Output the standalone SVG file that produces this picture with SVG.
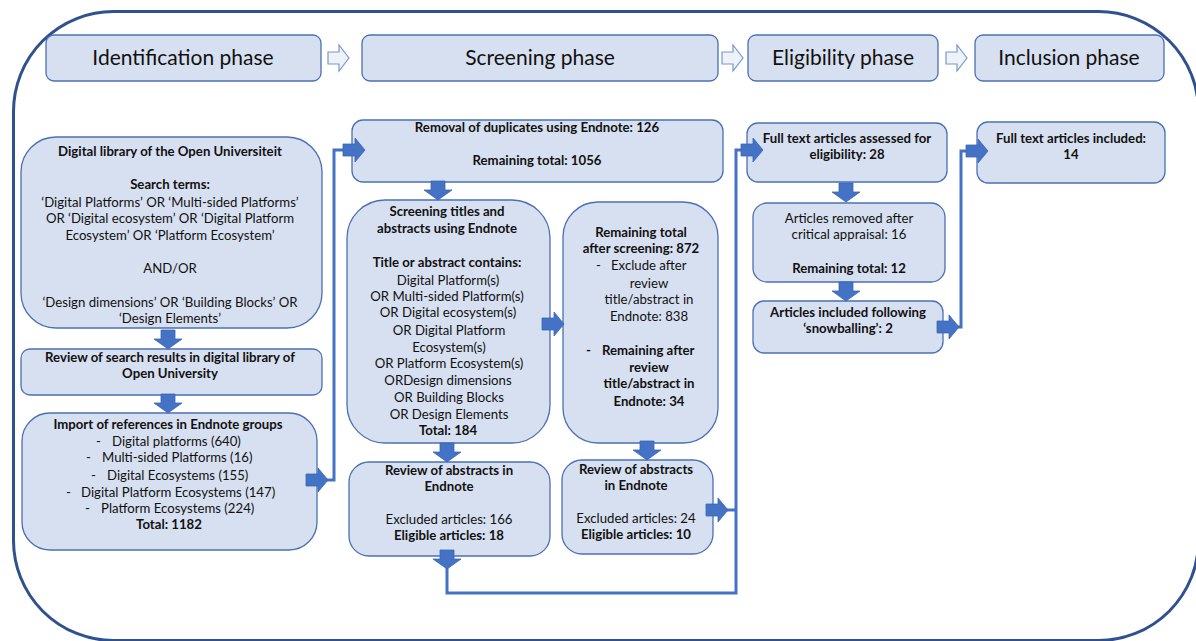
<svg xmlns="http://www.w3.org/2000/svg" xmlns:xlink="http://www.w3.org/1999/xlink" width="1196" height="641" viewBox="0 0 1196 641">
<style>
.box{fill:#D7E0F0;stroke:#4B70B3;stroke-width:1.3}
.t{font-family:Lato,"Open Sans",sans-serif;font-size:13.2px;fill:#111;text-anchor:middle}
.b{font-weight:bold}
.s{text-anchor:start}
.ph{font-family:Lato,"Open Sans",sans-serif;font-size:21px;fill:#111;text-anchor:middle}
.conn{fill:none;stroke:#4472C4;stroke-width:3}
.ba{fill:#4472C4;stroke:#3C66B5;stroke-width:0.8}
.ha{fill:#EEF2F9;stroke:#7A98CC;stroke-width:1.2}
</style>
<defs>
<path id="ar" d="M0,-6 H12 V-12 L22,0 L12,12 V6 H0 Z"/>
<path id="ad" d="M-7,0 V9 H-14 L0,19 L14,9 H7 V0 Z"/>
<path id="ah" d="M0,-6 H11 V-13 L21,0 L11,13 V6 H0 Z"/>
</defs>
<rect x="13.5" y="11.5" width="1185" height="629" rx="100" fill="none" stroke="#2F528F" stroke-width="3"/>

<g id="phases">
<g id="phase-identification"><rect class="box" x="46" y="35" width="275" height="46" rx="8"/><text class="ph" x="183" y="65">Identification phase</text></g>
<g id="phase-screening"><rect class="box" x="362" y="35" width="356" height="46" rx="8"/><text class="ph" x="540" y="65">Screening phase</text></g>
<g id="phase-eligibility"><rect class="box" x="748" y="35" width="190" height="46" rx="8"/><text class="ph" x="843" y="65">Eligibility phase</text></g>
<g id="phase-inclusion"><rect class="box" x="975" y="35" width="189" height="46" rx="8"/><text class="ph" x="1069" y="65">Inclusion phase</text></g>
<use href="#ah" class="ha" x="328" y="58"/>
<use href="#ah" class="ha" x="722" y="58"/>
<use href="#ah" class="ha" x="946" y="58"/>
</g>

<g id="digital-library">
<rect class="box" x="21" y="137" width="301" height="191" rx="35"/>
<text class="t b" x="170" y="156">Digital library of the Open Universiteit</text>
<text class="t b" x="170" y="189">Search terms:</text>
<text class="t" x="170" y="207">‘Digital Platforms’ OR ‘Multi-sided Platforms’</text>
<text class="t" x="170" y="223">OR ‘Digital ecosystem’ OR ‘Digital Platform</text>
<text class="t" x="170" y="240">Ecosystem’ OR ‘Platform Ecosystem’</text>
<text class="t" x="170" y="273">AND/OR</text>
<text class="t" x="170" y="307">‘Design dimensions’ OR ‘Building Blocks’ OR</text>
<text class="t" x="170" y="323">‘Design Elements’</text>
</g>

<g id="review-search">
<rect class="box" x="21" y="349" width="301" height="46" rx="9"/>
<text class="t b" x="170" y="362">Review of search results in digital library of</text>
<text class="t b" x="170" y="378">Open University</text>
</g>

<g id="import-references">
<rect class="box" x="22" y="413" width="295" height="137" rx="28"/>
<text class="t b" x="168" y="429">Import of references in Endnote groups</text>
<text class="t s" x="96" y="446">-</text><text class="t s" x="112" y="446">Digital platforms (640)</text>
<text class="t s" x="86" y="462">-</text><text class="t s" x="102" y="462">Multi-sided Platforms (16)</text>
<text class="t s" x="91" y="480">-</text><text class="t s" x="107" y="480">Digital Ecosystems (155)</text>
<text class="t s" x="66" y="497">-</text><text class="t s" x="81" y="497">Digital Platform Ecosystems (147)</text>
<text class="t s" x="85" y="513">-</text><text class="t s" x="101" y="513">Platform Ecosystems (224)</text>
<text class="t b" x="169" y="529">Total: 1182</text>
</g>

<g id="removal-duplicates">
<rect class="box" x="352" y="120" width="371" height="62" rx="11"/>
<text class="t b" x="537" y="132">Removal of duplicates using Endnote: 126</text>
<text class="t b" x="537" y="165">Remaining total: 1056</text>
</g>

<g id="screening-titles">
<rect class="box" x="347" y="200" width="203" height="243" rx="38"/>
<text class="t b" x="447" y="216">Screening titles and</text>
<text class="t b" x="447" y="233">abstracts using Endnote</text>
<text class="t b" x="447" y="267">Title or abstract contains:</text>
<text class="t" x="448" y="285">Digital Platform(s)</text>
<text class="t" x="447" y="301">OR Multi-sided Platform(s)</text>
<text class="t" x="448" y="317">OR Digital ecosystem(s)</text>
<text class="t" x="449" y="335">OR Digital Platform</text>
<text class="t" x="449" y="352">Ecosystem(s)</text>
<text class="t" x="449" y="368">OR Platform Ecosystem(s)</text>
<text class="t" x="448" y="385">ORDesign dimensions</text>
<text class="t" x="449" y="402">OR Building Blocks</text>
<text class="t" x="449" y="419">OR Design Elements</text>
<text class="t b" x="448" y="435">Total: 184</text>
</g>

<g id="remaining-after-screening">
<rect class="box" x="563" y="202" width="155" height="241" rx="35"/>
<text class="t b" x="641" y="237">Remaining total</text>
<text class="t b" x="641" y="253">after screening: 872</text>
<text class="t s" x="596" y="270">-</text><text class="t s" x="611" y="270">Exclude after</text>
<text class="t" x="649" y="288">review</text>
<text class="t" x="649" y="304">title/abstract in</text>
<text class="t" x="649" y="321">Endnote: 838</text>
<text class="t b s" x="586" y="355">-</text><text class="t b s" x="602" y="355">Remaining after</text>
<text class="t b" x="649" y="372">review</text>
<text class="t b" x="649" y="388">title/abstract in</text>
<text class="t b" x="649" y="406">Endnote: 34</text>
</g>

<g id="review-abstracts-1">
<rect class="box" x="349" y="462" width="201" height="94" rx="20"/>
<text class="t b" x="449" y="475">Review of abstracts in</text>
<text class="t b" x="449" y="491">Endnote</text>
<text class="t" x="449" y="524">Excluded articles: 166</text>
<text class="t b" x="449" y="540">Eligible articles: 18</text>
</g>

<g id="review-abstracts-2">
<rect class="box" x="562" y="460" width="151" height="94" rx="20"/>
<text class="t b" x="636" y="474">Review of abstracts</text>
<text class="t b" x="636" y="490">in Endnote</text>
<text class="t" x="636" y="523">Excluded articles: 24</text>
<text class="t b" x="636" y="539">Eligible articles: 10</text>
</g>

<g id="full-text-assessed">
<rect class="box" x="747" y="123" width="200" height="59" rx="11"/>
<text class="t b" x="847" y="143">Full text articles assessed for</text>
<text class="t b" x="847" y="159">eligibility: 28</text>
</g>

<g id="articles-removed">
<rect class="box" x="753" y="203" width="192" height="79" rx="14"/>
<text class="t" x="849" y="223">Articles removed after</text>
<text class="t" x="849" y="239">critical appraisal: 16</text>
<text class="t b" x="849" y="273">Remaining total: 12</text>
</g>

<g id="snowballing">
<rect class="box" x="753" y="301" width="190" height="52" rx="11"/>
<text class="t b" x="848" y="317">Articles included following</text>
<text class="t b" x="848" y="333">‘snowballing’: 2</text>
</g>

<g id="full-text-included">
<rect class="box" x="977" y="122" width="188" height="61" rx="11"/>
<text class="t b" x="1071" y="143">Full text articles included:</text>
<text class="t b" x="1071" y="159">14</text>
</g>

<g id="connectors">
<polyline class="conn" points="326,480 334,480 334,150 344,150"/>
<polyline class="conn" points="447,566 447,593 736,593 736,150 742,150"/>
<polyline class="conn" points="726,510 736,510"/>
<polyline class="conn" points="957,327 961,327 961,151 967,151"/>
<use href="#ar" class="ba" x="306" y="480"/>
<use href="#ar" class="ba" x="343" y="150"/>
<use href="#ar" class="ba" x="741" y="150"/>
<use href="#ar" class="ba" x="706" y="510"/>
<use href="#ar" class="ba" x="937" y="327"/>
<use href="#ar" class="ba" x="966" y="151"/>
<use href="#ar" class="ba" x="542" y="324"/>
<use href="#ad" class="ba" x="168" y="330"/>
<use href="#ad" class="ba" x="168" y="394"/>
<use href="#ad" class="ba" x="438" y="181"/>
<use href="#ad" class="ba" x="447" y="443"/>
<use href="#ad" class="ba" x="647" y="441"/>
<use href="#ad" class="ba" x="447" y="550"/>
<use href="#ad" class="ba" x="846" y="183"/>
<use href="#ad" class="ba" x="846" y="282"/>
</g>
</svg>
